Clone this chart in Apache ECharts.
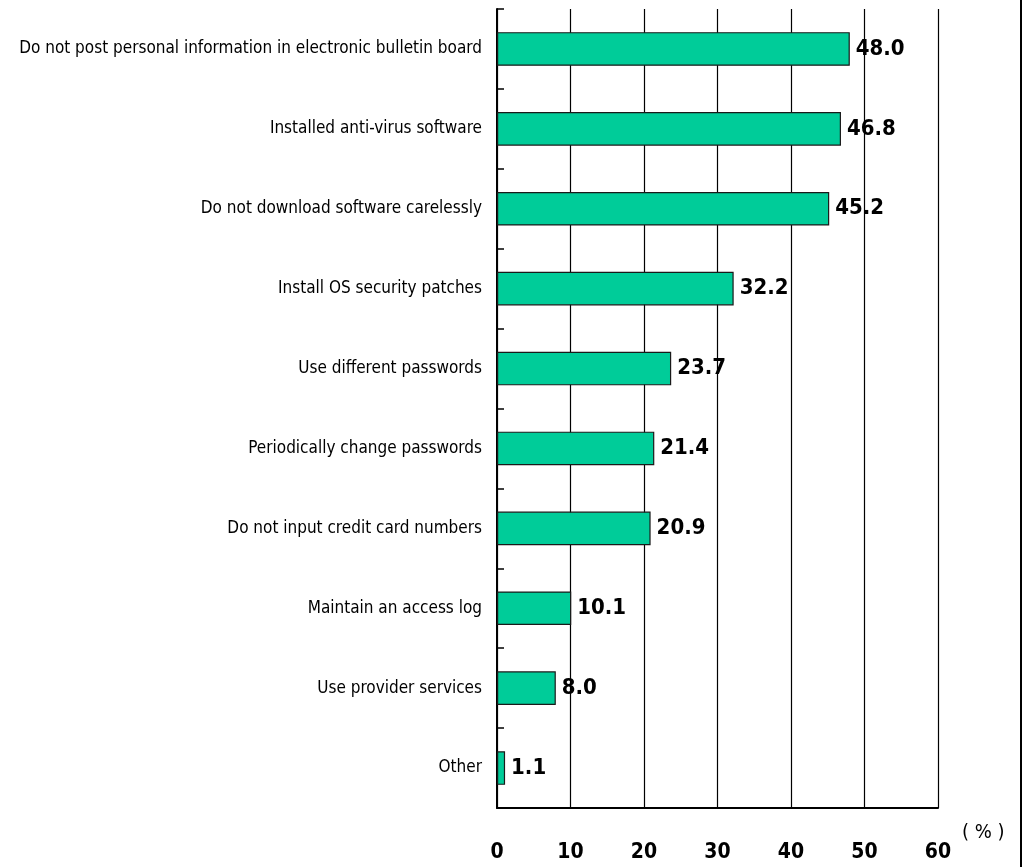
<!DOCTYPE html>
<html>
<head>
<meta charset="utf-8">
<script src="https://cdn.jsdelivr.net/npm/echarts@6/dist/echarts.min.js"></script>
<style>html,body{margin:0;padding:0;background:#fff}#c{width:1026px;height:867px}</style>
</head>
<body>
<div id="c"></div>
<script>
const categories = [
  "Do not post personal information in electronic bulletin board",
  "Installed anti-virus software",
  "Do not download software carelessly",
  "Install OS security patches",
  "Use different passwords",
  "Periodically change passwords",
  "Do not input credit card numbers",
  "Maintain an access log",
  "Use provider services",
  "Other"
];
const values = [48.0, 46.8, 45.2, 32.2, 23.7, 21.4, 20.9, 10.1, 8.0, 1.1];
const xTicks = [0, 10, 20, 30, 40, 50, 60];
const unitLabel = "( % )";

const narrow = '"Liberation Sans Narrow", "Arial Narrow", "DejaVu Sans Condensed", sans-serif';
const chart = echarts.init(document.getElementById('c'), null, {renderer: 'canvas'});
chart.setOption({
  animation: false,
  backgroundColor: '#fff',
  grid: {left: 497, top: 9, right: 88, bottom: 59, containLabel: false, outerBoundsMode: 'none'},
  xAxis: {
    type: 'value',
    min: xTicks[0], max: xTicks[xTicks.length - 1], interval: 10,
    axisLine: {show: true, lineStyle: {color: '#000', width: 2}},
    axisTick: {show: false},
    splitLine: {show: true, lineStyle: {color: '#000', width: 1.2}},
    axisLabel: {
      margin: 34, color: '#000', fontSize: 21, fontWeight: 'bold', fontFamily: narrow
    }
  },
  yAxis: {
    type: 'category',
    data: categories,
    inverse: true,
    axisLine: {show: true, lineStyle: {color: '#000', width: 2}},
    axisTick: {show: true, inside: true, length: 7, lineStyle: {color: '#000', width: 1.5}},
    splitLine: {show: false},
    axisLabel: {margin: 15, color: '#000', fontSize: 17, fontFamily: narrow}
  },
  series: [{
    type: 'bar',
    data: values,
    barWidth: '42%',
    itemStyle: {color: '#00CC99', borderColor: '#1a1a1a', borderWidth: 1.2},
    label: {
      show: true, position: 'right', distance: 6,
      color: '#000', fontSize: 22, fontWeight: 'bold', fontFamily: narrow,
      formatter: p => p.value.toFixed(1)
    }
  }],
  graphic: [
    {type: 'line', shape: {x1: 1021, y1: 0, x2: 1021, y2: 867}, style: {stroke: '#000', lineWidth: 2}},
    {type: 'text', left: 962, top: 823, style: {text: unitLabel, fontSize: 20, fontFamily: narrow, fill: '#000'}}
  ]
});
</script>
</body>
</html>
